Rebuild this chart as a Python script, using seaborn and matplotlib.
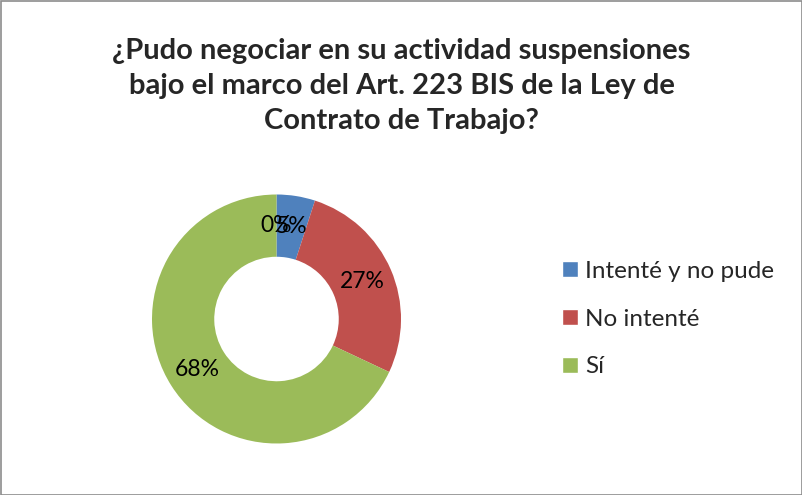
import numpy as np
import matplotlib
matplotlib.use("Agg")
import matplotlib.pyplot as plt
from matplotlib.patches import Rectangle, Patch
import seaborn as sns

# data (first slice is an unnamed 0% entry)
categories = ["", "Intenté y no pude", "No intenté", "Sí"]
shares = [0, 5, 27, 68]
colors = ["#4F81BD", "#4F81BD", "#C0504D", "#9BBB59"]
title = ("¿Pudo negociar en su actividad suspensiones\n"
         "bajo el marco del Art. 223 BIS de la Ley de\n"
         "Contrato de Trabajo?")

sns.set_theme(style="white")
plt.rcParams['font.family'] = ['Lato', 'DejaVu Sans']

W, H = 803, 495
fig = plt.figure(figsize=(W / 100, H / 100), dpi=100)

# donut centre and radius in pixels
cx, cy, r = 276.5, 319, 124.5
ax = fig.add_axes([(cx - r) / W, (H - cy - r) / H, 2 * r / W, 2 * r / H])

wedges, _, autotexts = ax.pie(
    shares,
    colors=colors,
    startangle=90,
    counterclock=False,
    autopct=lambda p: f"{p:.0f}%",
    pctdistance=0.75,
    wedgeprops=dict(width=0.5, linewidth=0),
    textprops=dict(fontsize=16.5, color="black"),
)
ax.set_xlim(-1, 1)
ax.set_ylim(-1, 1)
ax.set_aspect("equal")

fig.text(0.5, 1 - 86 / H, title, ha="center", va="center",
         fontsize=21, fontweight="bold", linespacing=1.45)

handles = [Patch(facecolor=c, label=lab)
           for c, lab in zip(colors[1:], categories[1:])]
fig.legend(handles=handles, loc="center left",
           bbox_to_anchor=(540 / W, 1 - 319 / H), frameon=False,
           fontsize=17.5, handlelength=0.65, handleheight=0.65,
           handletextpad=0.3, labelspacing=1.1)

fig.patches.append(Rectangle((0.5 / W, 0.5 / H), 1 - 1.5 / W, 1 - 1.5 / H,
                             transform=fig.transFigure, fill=False,
                             edgecolor="#8c8c8c", linewidth=1.2))

fig.savefig("out.png", dpi=100)
plt.close(fig)
